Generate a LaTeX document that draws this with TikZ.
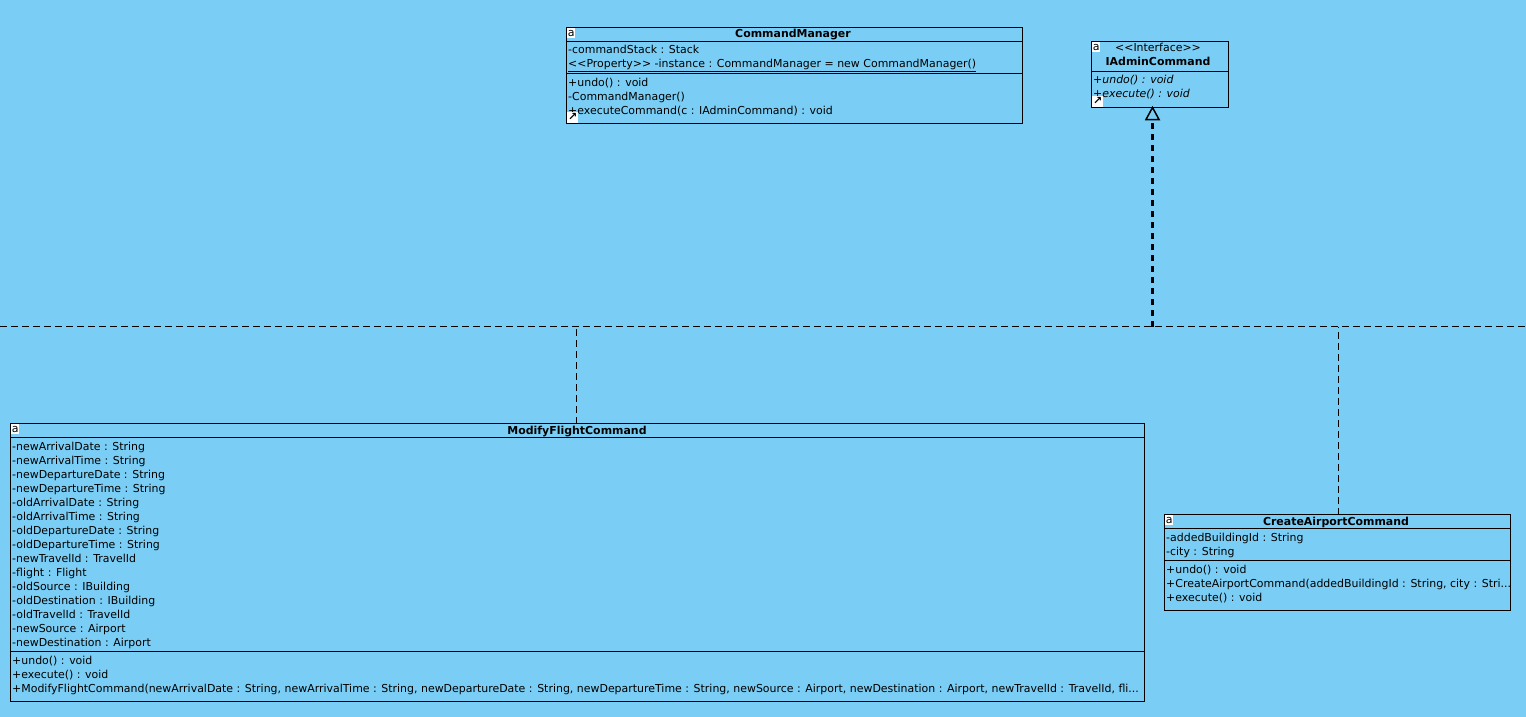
\documentclass[tikz,border=0pt]{standalone}
\usepackage{fontspec}
\setmainfont{DejaVu Sans}
\usetikzlibrary{arrows.meta}
\definecolor{bgblue}{HTML}{7ACEF5}
\tikzset{
    classbox/.style={draw,line width=1pt,inner sep=0pt,outer sep=0pt,anchor=north west},
    member/.style={anchor=west,inner sep=0pt,yshift=-1pt,text height=8pt,text depth=2pt,font=\fontsize{10.95}{13}\selectfont},
    title/.style={anchor=center,inner sep=0pt,yshift=-1pt,text height=8pt,text depth=2pt,font=\fontsize{10.95}{13}\selectfont\bfseries},
    openicon/.style={fill=white,anchor=north west,inner sep=0pt,minimum width=8pt,minimum height=10pt,font=\fontsize{11}{11}\selectfont},
    linkicon/.style={fill=white,anchor=north west,inner sep=0pt,minimum width=11pt,minimum height=11pt,font=\fontsize{11}{11}\selectfont\bfseries},
    realize/.style={dashed,dash pattern=on 7pt off 4pt,line width=1pt},
}
\begin{document}
\begin{tikzpicture}[x=1pt,y=1pt,yscale=-1]
    \useasboundingbox (0,0) rectangle (1526,717);
    \fill [bgblue] (0,0) rectangle (1526,717);

    % Class boxes
    \node [classbox,minimum width=456pt,minimum height=96pt] (manager) at (566.5,27.5) {};
    \node [classbox,minimum width=137pt,minimum height=66pt] (iface) at (1091.5,41.5) {};
    \node [classbox,minimum width=1134pt,minimum height=278pt] (modify) at (10.5,423.5) {};
    \node [classbox,minimum width=346pt,minimum height=96pt] (create) at (1164.5,514.5) {};

    % Compartment lines
    \draw [line width=1pt] (566.5,41.5) -- (1022.5,41.5) (566.5,73.5) -- (1022.5,73.5);
    \draw [line width=1pt] (1091.5,71.5) -- (1228.5,71.5);
    \draw [line width=1pt] (10.5,437.5) -- (1144.5,437.5) (10.5,651.5) -- (1144.5,651.5);
    \draw [line width=1pt] (1164.5,528.5) -- (1510.5,528.5) (1164.5,560.5) -- (1510.5,560.5);

    % Connectors
    \coordinate (trunkleft) at (0,326.5);
    \coordinate (trunkright) at (1526,326.5);
    \coordinate (joint) at (1152.5,326.5);
    \coordinate (modifyup) at (576.5,423.5);
    \coordinate (createup) at (1338.5,514.5);
    \coordinate (arrowbase) at (1152.5,118);
    \draw [realize] (trunkleft) -- (trunkright);
    \draw [realize] (modifyup) -- (modifyup |- trunkleft);
    \draw [realize] (createup) -- (createup |- trunkleft);
    \draw [realize,line width=3pt,dash pattern=on 6pt off 5pt] (joint) -- (arrowbase);
    \draw [line width=1.5pt,fill=bgblue,line join=miter] (joint |- iface.south) -- ++(6.5,12) -- ++(-13,0) -- cycle;

    % CommandManager
    \node [title] (managertitle) at (793,34) {CommandManager};
    \node [member] (m1) at (568,50) {-commandStack : Stack};
    \node [member] (m2) at (568,64) {\underline{<{}<Property>{}> -instance : CommandManager = new CommandManager()}};
    \node [member] (m3) at (568,82) {+undo() : void};
    \node [member] (m4) at (568,96) {-CommandManager()};
    \node [member] (m5) at (568,110) {+executeCommand(c : IAdminCommand) : void};
    \node [openicon] (manageropen) at (567,28) {a};
    \node [linkicon] (managerlink) at (567,111.5) {↗};

    % IAdminCommand
    \node [member,anchor=center] (ifacestereo) at (1158,48) {<{}<Interface>{}>};
    \node [title] (ifacetitle) at (1158,62) {IAdminCommand};
    \node [member] (i1) at (1093,79) {\itshape +undo() : void};
    \node [member] (i2) at (1093,93) {\itshape +execute() : void};
    \node [openicon] (ifaceopen) at (1092,42) {a};
    \node [linkicon] (ifacelink) at (1092,95.5) {↗};

    % ModifyFlightCommand
    \node [title] (modifytitle) at (577,430) {ModifyFlightCommand};
    \node [member] (f1) at (12,446) {-newArrivalDate : String};
    \node [member] (f2) at (12,460) {-newArrivalTime : String};
    \node [member] (f3) at (12,474) {-newDepartureDate : String};
    \node [member] (f4) at (12,488) {-newDepartureTime : String};
    \node [member] (f5) at (12,502) {-oldArrivalDate : String};
    \node [member] (f6) at (12,516) {-oldArrivalTime : String};
    \node [member] (f7) at (12,530) {-oldDepartureDate : String};
    \node [member] (f8) at (12,544) {-oldDepartureTime : String};
    \node [member] (f9) at (12,558) {-newTravelId : TravelId};
    \node [member] (f10) at (12,572) {-flight : Flight};
    \node [member] (f11) at (12,586) {-oldSource : IBuilding};
    \node [member] (f12) at (12,600) {-oldDestination : IBuilding};
    \node [member] (f13) at (12,614) {-oldTravelId : TravelId};
    \node [member] (f14) at (12,628) {-newSource : Airport};
    \node [member] (f15) at (12,642) {-newDestination : Airport};
    \node [member] (f16) at (12,660) {+undo() : void};
    \node [member] (f17) at (12,674) {+execute() : void};
    \node [member] (f18) at (12,688) {+ModifyFlightCommand(newArrivalDate : String, newArrivalTime : String, newDepartureDate : String, newDepartureTime : String, newSource : Airport, newDestination : Airport, newTravelId : TravelId, fli...};
    \node [openicon] (modifyopen) at (11,424) {a};

    % CreateAirportCommand
    \node [title] (createtitle) at (1336,521) {CreateAirportCommand};
    \node [member] (c1) at (1166,537) {-addedBuildingId : String};
    \node [member] (c2) at (1166,551) {-city : String};
    \node [member] (c3) at (1166,569) {+undo() : void};
    \node [member] (c4) at (1166,583) {+CreateAirportCommand(addedBuildingId : String, city : Stri...};
    \node [member] (c5) at (1166,597) {+execute() : void};
    \node [openicon] (createopen) at (1165,515) {a};
\end{tikzpicture}
\end{document}
